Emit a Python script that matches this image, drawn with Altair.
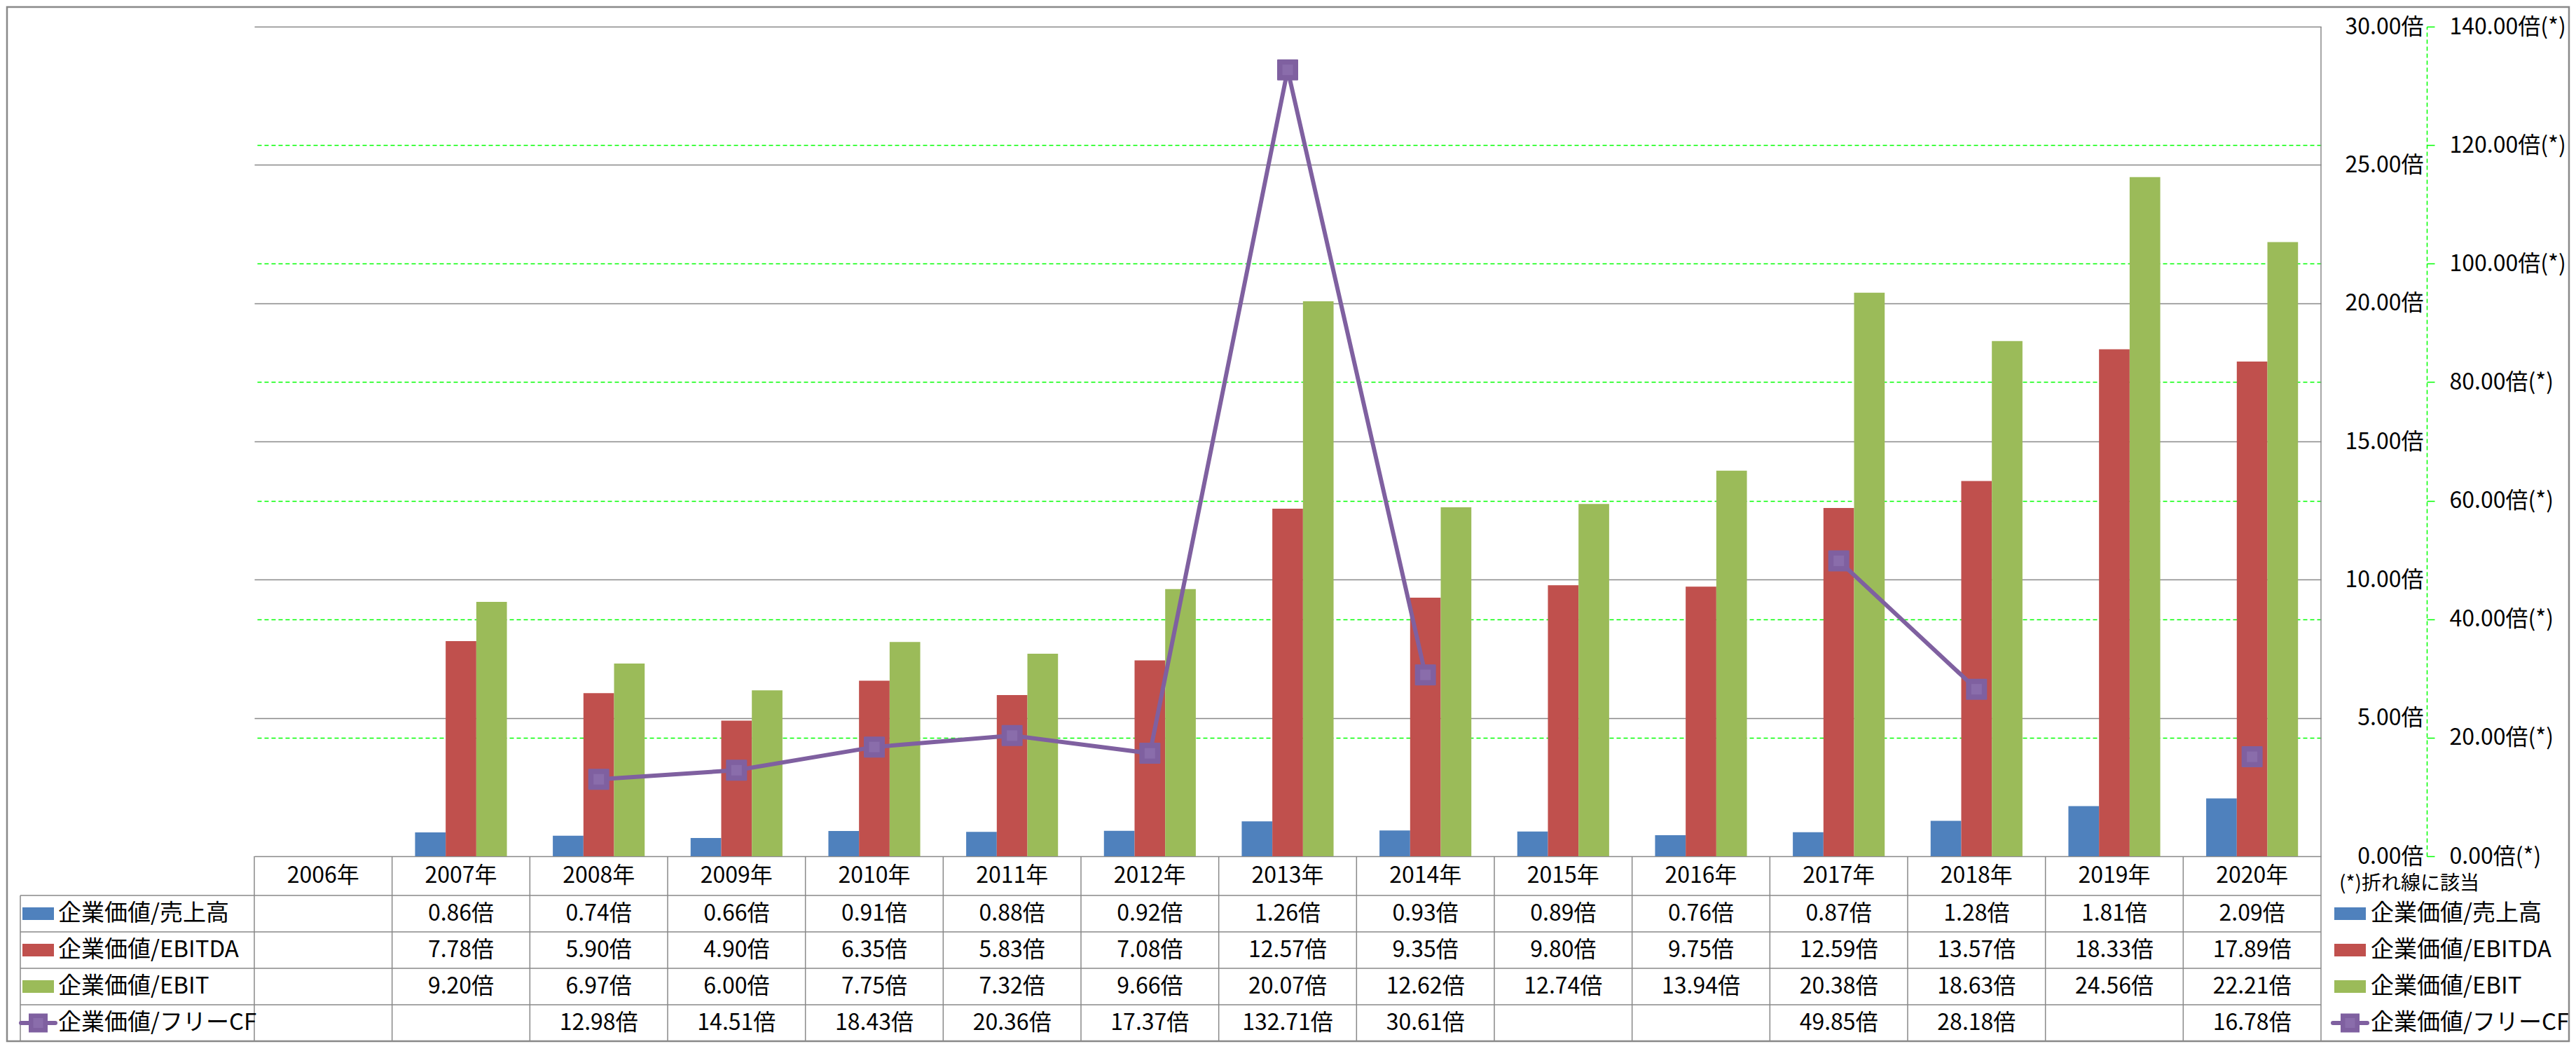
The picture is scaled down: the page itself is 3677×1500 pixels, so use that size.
import altair as alt
import pandas as pd

# ---------------- data ----------------
years = ["2006年", "2007年", "2008年", "2009年", "2010年", "2011年", "2012年", "2013年",
         "2014年", "2015年", "2016年", "2017年", "2018年", "2019年", "2020年"]
bar_series = ["企業価値/売上高", "企業価値/EBITDA", "企業価値/EBIT"]
line_series = "企業価値/フリーCF"
ev_sales = [None, 0.86, 0.74, 0.66, 0.91, 0.88, 0.92, 1.26, 0.93, 0.89, 0.76, 0.87, 1.28, 1.81, 2.09]
ev_ebitda = [None, 7.78, 5.90, 4.90, 6.35, 5.83, 7.08, 12.57, 9.35, 9.80, 9.75, 12.59, 13.57, 18.33, 17.89]
ev_ebit = [None, 9.20, 6.97, 6.00, 7.75, 7.32, 9.66, 20.07, 12.62, 12.74, 13.94, 20.38, 18.63, 24.56, 22.21]
ev_fcf = [None, None, 12.98, 14.51, 18.43, 20.36, 17.37, 132.71, 30.61, None, None, 49.85, 28.18, None, 16.78]
left_ticks = [0, 5, 10, 15, 20, 25, 30]
right_ticks = [0, 20, 40, 60, 80, 100, 120, 140]
note_text = "(*)折れ線に該当"

# ---------------- style / layout ----------------
bar_colors = ["#4F81BD", "#C0504D", "#9BBB59"]
LINE_COLOR = "#7F60A0"
INNER_COLOR = "#8A6DAB"
GRAY = "#898989"
GREEN = "#00FF00"
FONT = "Noto Sans CJK JP"
PAD_TOP = 30
W, H = 2950, 1184
HEADER_BOTTOM = H + 56
ROW_H = 52
TABLE_BOTTOM = HEADER_BOTTOM + 4 * ROW_H
LEG_LEFT = -334
RLEG_LEFT = 2969
FS = 32
LEG_FS = 33

one = pd.DataFrame({"k": [0]})

X_year = alt.X("year:N", sort=years,
               scale=alt.Scale(domain=years, paddingInner=0, paddingOuter=0), axis=None)

# bars
bar_rows = []
for i, yr in enumerate(years):
    for s, arr in zip(bar_series, [ev_sales, ev_ebitda, ev_ebit]):
        if arr[i] is not None:
            bar_rows.append({"year": yr, "series": s, "value": arr[i]})
bars_df = pd.DataFrame(bar_rows)

left_axis = alt.Axis(
    orient="right", values=left_ticks, title=None,
    labelExpr="format(datum.value, '.2f') + '倍'",
    domain=False, ticks=False, tickSize=0, labelPadding=146, labelAlign="right",
    labelBaseline="middle", labelFontSize=FS, labelFont=FONT, labelColor="#000000",
    labelFlush=False, labelOverlap=False,
    grid=True, gridColor=GRAY, gridWidth=1.5,
)

bars = alt.Chart(bars_df).mark_bar().encode(
    x=X_year,
    xOffset=alt.XOffset("series:N", sort=bar_series,
                        scale=alt.Scale(domain=bar_series, paddingInner=0, paddingOuter=0.75)),
    y=alt.Y("value:Q", scale=alt.Scale(domain=[0, 30], nice=False), axis=left_axis),
    color=alt.Color("series:N", scale=alt.Scale(domain=bar_series, range=bar_colors), legend=None),
)

# line (segments broken where values are missing)
fcf_rows = []
seg = 0
prev = None
for i, yr in enumerate(years):
    v = ev_fcf[i]
    if v is None:
        prev = None
        continue
    if prev is None:
        seg += 1
    fcf_rows.append({"year": yr, "value": v, "seg": seg})
    prev = v
fcf_df = pd.DataFrame(fcf_rows)

right_axis = alt.Axis(
    orient="right", values=right_ticks, title=None, offset=151,
    labelExpr="format(datum.value, '.2f') + '倍(*)'",
    domain=True, domainColor=GREEN, domainDash=[6, 4], domainWidth=1.5,
    ticks=True, tickColor=GREEN, tickSize=11, tickWidth=1.5,
    labelPadding=21, labelAlign="left", labelBaseline="middle",
    labelFontSize=FS, labelFont=FONT, labelColor="#000000",
    labelFlush=False, labelOverlap=False,
    grid=True, gridColor=GREEN, gridDash=[6, 4], gridWidth=1.5,
    gridOpacity={"condition": {"test": "datum.value === 0 || datum.value === 140", "value": 0},
                 "value": 1},
)
Y_fcf = alt.Y("value:Q", scale=alt.Scale(domain=[0, 140], nice=False), axis=right_axis)

line = alt.Chart(fcf_df).mark_line(color=LINE_COLOR, strokeWidth=6).encode(
    x=X_year, y=Y_fcf, detail="seg:N")
pts = alt.Chart(fcf_df).mark_point(shape="square", filled=True, size=784, color=LINE_COLOR,
                                   stroke=LINE_COLOR, strokeWidth=2, strokeJoin="round",
                                   opacity=1).encode(x=X_year, y=Y_fcf)
pts_in = alt.Chart(fcf_df).mark_point(shape="square", filled=True, size=225, color=INNER_COLOR,
                                      opacity=1).encode(x=X_year, y=Y_fcf)
fcf_layer = alt.layer(line, pts, pts_in)

# ---------------- data table ----------------
layers = []


def hrule(y, x1, x2, width=1.5):
    return alt.Chart(one).mark_rule(color=GRAY, strokeWidth=width).encode(
        x=alt.value(x1), x2=alt.value(x2), y=alt.value(y))


def vrule(x, y1, y2, width=1.5):
    return alt.Chart(one).mark_rule(color=GRAY, strokeWidth=width).encode(
        x=alt.value(x), y=alt.value(y1), y2=alt.value(y2))


years_df = pd.DataFrame({"year": years})
table_vlines = alt.Chart(years_df).mark_rule(color=GRAY, strokeWidth=1.5).encode(
    x=alt.X("year:N", sort=years, bandPosition=0,
            scale=alt.Scale(domain=years, paddingInner=0, paddingOuter=0), axis=None),
    y=alt.value(H), y2=alt.value(TABLE_BOTTOM))
layers.append(table_vlines)
layers.append(vrule(W, 0, TABLE_BOTTOM))
layers.append(vrule(LEG_LEFT, HEADER_BOTTOM, TABLE_BOTTOM))
for r in range(4):
    layers.append(hrule(HEADER_BOTTOM + r * ROW_H, LEG_LEFT, W))

header = alt.Chart(years_df).mark_text(font=FONT, fontSize=FS, baseline="middle",
                                       align="center", color="#000000").encode(
    x=X_year, y=alt.value((H + HEADER_BOTTOM) / 2), text="year:N")
layers.append(header)

all_series = bar_series + [line_series]
all_values = [ev_sales, ev_ebitda, ev_ebit, ev_fcf]
for r, (s, arr) in enumerate(zip(all_series, all_values)):
    cy = HEADER_BOTTOM + r * ROW_H + ROW_H / 2
    cells = pd.DataFrame([{"year": yr, "label": f"{v:.2f}倍"}
                          for yr, v in zip(years, arr) if v is not None])
    layers.append(alt.Chart(cells).mark_text(font=FONT, fontSize=FS, baseline="middle",
                                             align="center", color="#000000").encode(
        x=X_year, y=alt.value(cy), text="label:N"))

# ---------------- legends (table column + right side) ----------------
for r, s in enumerate(all_series):
    cy = HEADER_BOTTOM + r * ROW_H + ROW_H / 2
    for kx, tx in [(LEG_LEFT + 3, LEG_LEFT + 54), (RLEG_LEFT, RLEG_LEFT + 52)]:
        if r < 3:
            layers.append(alt.Chart(one).mark_rect(color=bar_colors[r]).encode(
                x=alt.value(kx), x2=alt.value(kx + 45),
                y=alt.value(cy - 9), y2=alt.value(cy + 9)))
        else:
            layers.append(alt.Chart(one).mark_rule(color=LINE_COLOR, strokeWidth=6,
                                                   strokeCap="round").encode(
                x=alt.value(kx - 2), x2=alt.value(kx + 47), y=alt.value(cy)))
            layers.append(alt.Chart(one).mark_point(shape="square", filled=True, size=729,
                                                    color=LINE_COLOR, opacity=1).encode(
                x=alt.value(kx + 22.5), y=alt.value(cy)))
            layers.append(alt.Chart(one).mark_point(shape="square", filled=True, size=196,
                                                    color=INNER_COLOR, opacity=1).encode(
                x=alt.value(kx + 22.5), y=alt.value(cy)))
        layers.append(alt.Chart(one).mark_text(font=FONT, fontSize=LEG_FS, baseline="middle",
                                               align="left", color="#000000").encode(
            x=alt.value(tx), y=alt.value(cy), text=alt.value(s)))

layers.append(alt.Chart(one).mark_text(font=FONT, fontSize=28, baseline="middle",
                                       align="left", color="#000000").encode(
    x=alt.value(RLEG_LEFT + 7), y=alt.value(H + 40), text=alt.value(note_text)))

# outer border
layers.append(alt.Chart(one).mark_rect(fillOpacity=0, stroke=GRAY, strokeWidth=2.5).encode(
    x=alt.value(-353), x2=alt.value(3304), y=alt.value(-PAD_TOP + 2), y2=alt.value(TABLE_BOTTOM)))

chart = alt.layer(bars, fcf_layer, *layers).resolve_scale(y="independent").properties(
    width=W, height=H,
    padding={"left": 355, "top": PAD_TOP, "right": 356, "bottom": 1484 - PAD_TOP - H},
    autosize=alt.AutoSizeParams(type="none"),
    background="white",
).configure_view(strokeWidth=0)

chart.save("out.html", embed_options={"renderer": "svg", "actions": False})
